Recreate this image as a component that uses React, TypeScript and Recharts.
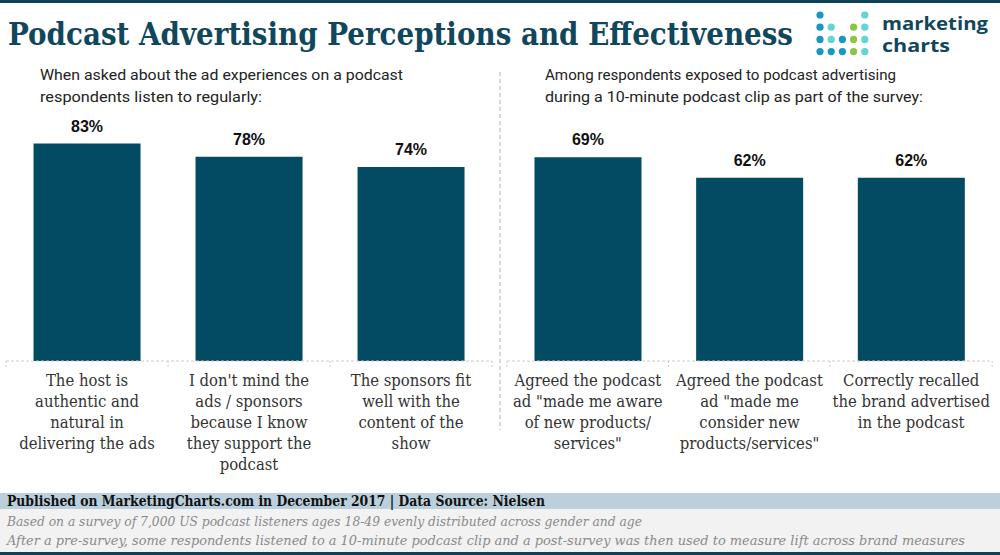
import React from 'react';
import { BarChart, Bar, XAxis, YAxis, LabelList } from 'recharts';

// left panel: ad experiences on podcasts respondents listen to regularly
const leftCategories = [
  'The host is\nauthentic and\nnatural in\ndelivering the ads',
  "I don't mind the\nads / sponsors\nbecause I know\nthey support the\npodcast",
  'The sponsors fit\nwell with the\ncontent of the\nshow',
];
const leftValues = [83, 78, 74];

// right panel: respondents exposed to a 10-minute podcast clip
const rightCategories = [
  'Agreed the podcast\nad "made me aware\nof new products/\nservices"',
  'Agreed the podcast\nad "made me\nconsider new\nproducts/services"',
  'Correctly recalled\nthe brand advertised\nin the podcast',
];
const rightValues = [69, 62, 62];

const leftData = leftCategories.map((name, i) => ({ name, value: leftValues[i] }));
const rightData = rightCategories.map((name, i) => ({ name, value: rightValues[i] }));

const BAR = '#024b62';
const DARK = '#11475c';
const SLAB = "'DejaVu Serif Condensed', 'DejaVu Serif', serif";

function CatTick(props: any) {
  const { x, y, payload, index, band } = props;
  const lines = String(payload.value).split('\n');
  return (
    <g>
      <line x1={x - band / 2} x2={x - band / 2} y1={y} y2={y + 6} stroke="#ccc" strokeDasharray="2 2" />
      {index === 2 && (
        <line x1={x + band / 2} x2={x + band / 2} y1={y} y2={y + 6} stroke="#ccc" strokeDasharray="2 2" />
      )}
      <text x={x} y={y + 25} textAnchor="middle" fill="#333" fontSize={16.5} fontFamily={SLAB}>
        {lines.map((l, i) => (
          <tspan key={i} x={x} dy={i === 0 ? 0 : 21}>{l}</tspan>
        ))}
      </text>
    </g>
  );
}

function Panel({ data, max, left, ml }: { data: any[]; max: number; left: number; ml: number }) {
  return (
    <div style={{ position: 'absolute', left, top: 0 }}>
      <BarChart width={500} height={485} data={data} margin={{ top: 99, right: 8, bottom: 0, left: ml }} barCategoryGap="17%">
        <YAxis hide domain={[0, max]} />
        <XAxis
          dataKey="name"
          height={124}
          interval={0}
          tickSize={0}
          tickMargin={0}
          axisLine={{ stroke: '#ccc', strokeDasharray: '3 2' }}
          tickLine={false}
          tick={(p: any) => <CatTick {...p} band={162} />}
        />
        <Bar dataKey="value" fill={BAR} isAnimationActive={false}>
          <LabelList
            dataKey="value"
            position="top"
            offset={12}
            formatter={(v: any) => `${v}%`}
            style={{ fill: '#111', fontSize: 16, fontWeight: 'bold', fontFamily: "'Liberation Sans', Arial, sans-serif" }}
          />
        </Bar>
      </BarChart>
    </div>
  );
}

const dots: [number, number, string][] = [
  [0, 0, '#1a96c2'], [4, 0, '#63d4d4'],
  [0, 1, '#1a96c2'], [1, 1, '#63d4d4'], [3, 1, '#8cc63f'], [4, 1, '#63d4d4'],
  [0, 2, '#1a96c2'], [1, 2, '#63d4d4'], [2, 2, '#1a96c2'], [3, 2, '#8cc63f'], [4, 2, '#63d4d4'],
  [0, 3, '#1a96c2'], [1, 3, '#1a96c2'], [2, 3, '#1a96c2'], [3, 3, '#8cc63f'], [4, 3, '#63d4d4'],
];

export default function App() {
  return (
    <div style={{ position: 'absolute', left: 0, top: 0, width: 1000, height: 555, background: '#fff', overflow: 'hidden' }}>
      <svg width={1000} height={555} style={{ position: 'absolute', left: 0, top: 0 }}>
        <rect x={0} y={0} width={1000} height={3} fill="#0e4155" />
        <text x={8} y={45} fontSize={31} fontWeight="bold" fill={DARK} fontFamily={SLAB} textLength={785} lengthAdjust="spacingAndGlyphs">
          Podcast Advertising Perceptions and Effectiveness
        </text>
        {dots.map(([c, r, col], i) => (
          <circle key={i} cx={820 + c * 11.2} cy={15 + r * 12.2} r={3.6} fill={col} />
        ))}
        <text x={882} y={30} fontSize={18} fontWeight={700} fill={DARK} fontFamily="'Open Sans', sans-serif" textLength={106} lengthAdjust="spacingAndGlyphs">marketing</text>
        <text x={882} y={52} fontSize={18} fontWeight={700} fill={DARK} fontFamily="'Open Sans', sans-serif" textLength={68} lengthAdjust="spacingAndGlyphs">charts</text>

        <g fontFamily="Roboto, sans-serif" fontSize={15} fill="#222">
          <text x={40} y={80} textLength={363} lengthAdjust="spacingAndGlyphs">When asked about the ad experiences on a podcast</text>
          <text x={40} y={102} textLength={222} lengthAdjust="spacingAndGlyphs">respondents listen to regularly:</text>
          <text x={545} y={80} textLength={351} lengthAdjust="spacingAndGlyphs">Among respondents exposed to podcast advertising</text>
          <text x={545} y={102} textLength={378} lengthAdjust="spacingAndGlyphs">during a 10-minute podcast clip as part of the survey:</text>
        </g>
        <line x1={500} x2={500} y1={72} y2={430} stroke="#9db4cc" strokeDasharray="4 3" />

        <rect x={0} y={493} width={1000} height={16} fill="#bccfdc" />
        <rect x={0} y={509} width={1000} height={43} fill="#f2f2f2" />
        <rect x={0} y={552} width={1000} height={3} fill="#0e4155" />
        <text x={7} y={506} fontSize={14} fontWeight="bold" fill="#111" fontFamily={SLAB} textLength={538} lengthAdjust="spacingAndGlyphs">
          Published on MarketingCharts.com in December 2017 | Data Source: Nielsen
        </text>
        <g fontSize={13} fontStyle="italic" fill="#8a8a8a" fontFamily={SLAB}>
          <text x={7} y={526} textLength={635} lengthAdjust="spacingAndGlyphs">
            Based on a survey of 7,000 US podcast listeners ages 18-49 evenly distributed across gender and age
          </text>
          <text x={7} y={545} textLength={958} lengthAdjust="spacingAndGlyphs">
            After a pre-survey, some respondents listened to a 10-minute podcast clip and a post-survey was then used to measure lift across brand measures
          </text>
        </g>
      </svg>
      <Panel data={leftData} max={100} left={0} ml={6} />
      <Panel data={rightData} max={88.7} left={500} ml={7} />
    </div>
  );
}
